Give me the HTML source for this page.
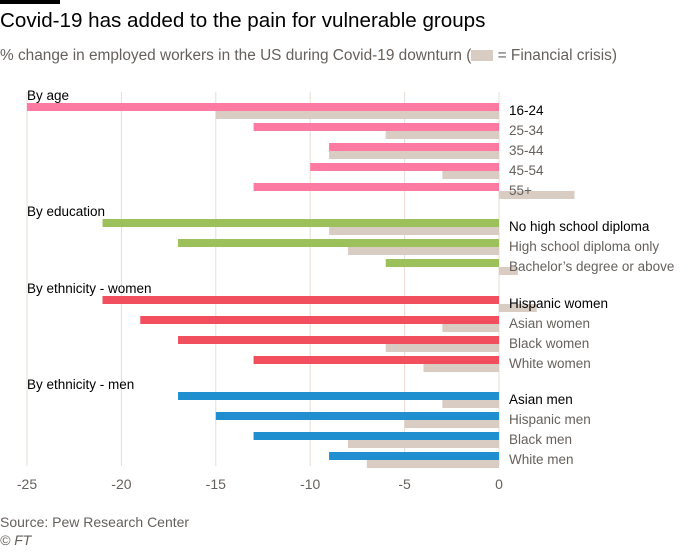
<!DOCTYPE html>
<html><head><meta charset="utf-8"><style>
body{margin:0;background:#fff;font-family:"Liberation Sans",sans-serif;}
#wrap{position:relative;width:700px;height:552px;overflow:hidden;}
.t{position:absolute;white-space:nowrap;}
</style></head><body>
<div id="wrap">
<div class="t" style="left:0;top:0;width:60px;height:4px;background:#000"></div>
<div class="t" style="left:0;top:9px;font-size:20.6px;color:#000">Covid-19 has added to the pain for vulnerable groups</div>
<div class="t" style="left:0;top:47px;font-size:15.4px;color:#66605c">% change in employed workers in the US during Covid-19 downturn (<span style="display:inline-block;width:22px;height:11px;background:#d9ccc3;vertical-align:-1px"></span> = Financial crisis)</div>
<svg id="c" width="700" height="552" style="position:absolute;left:0;top:0"></svg>
<div class="t" style="left:0;top:514px;font-size:14px;color:#66605c">Source: Pew Research Center</div>
<div class="t" style="left:0;top:532px;font-size:14px;color:#66605c;font-style:italic">© FT</div>
</div>
<script>
const groups=["By age","By education","By ethnicity - women","By ethnicity - men"];
const groupColors=["#ff7aa2","#9dc15a","#f24f5e","#1f8fd0"];
const groupTops=[103,219,296,392];
const categories=[["16-24","25-34","35-44","45-54","55+"],["No high school diploma","High school diploma only","Bachelor’s degree or above"],["Hispanic women","Asian women","Black women","White women"],["Asian men","Hispanic men","Black men","White men"]];
const covid=[[-25,-13,-9,-10,-13],[-21,-17,-6],[-21,-19,-17,-13],[-17,-15,-13,-9]];
const crisis=[[-15,-6,-9,-3,4],[-9,-8,1],[2,-3,-6,-4],[-3,-5,-8,-7]];
const ticks=[-25,-20,-15,-10,-5,0];
const svg=document.getElementById('c');const NS="http://www.w3.org/2000/svg";
const x=v=>499+v*(472/25);
function mk(t,a){const e=document.createElementNS(NS,t);for(const k in a)e.setAttribute(k,a[k]);svg.appendChild(e);return e;}
ticks.forEach(t=>{
const l=mk('line',{x1:x(t),x2:x(t),y1:92,y2:466,stroke:'#e6dcd4','stroke-width':1});


const tx=mk('text',{x:x(t),y:489,'text-anchor':'middle','font-size':14,fill:'#66605c','font-family':'Liberation Sans'});
tx.textContent=t;


});
groups.forEach((g,gi)=>{
const top=groupTops[gi];
const gt=mk('text',{x:27,y:top-3,'font-size':13.5,fill:'#000','font-family':'Liberation Sans'});
gt.textContent=g;


categories[gi].forEach((c,i)=>{
const y=top+i*20;
const v=covid[gi][i],w=crisis[gi][i];
const gb=mk('rect',{x:Math.min(x(w),x(0)),y:y+8,width:Math.abs(x(w)-x(0)),height:8,fill:'#d9ccc3'});


const b=mk('rect',{x:Math.min(x(v),x(0)),y:y,width:Math.abs(x(v)-x(0)),height:8,fill:groupColors[gi]});


const lt=mk('text',{x:509,y:y+12,'font-size':13.5,fill:i==0?'#000':'#66605c','font-family':'Liberation Sans'});
lt.textContent=c;


});
});
</script>
</body></html>
